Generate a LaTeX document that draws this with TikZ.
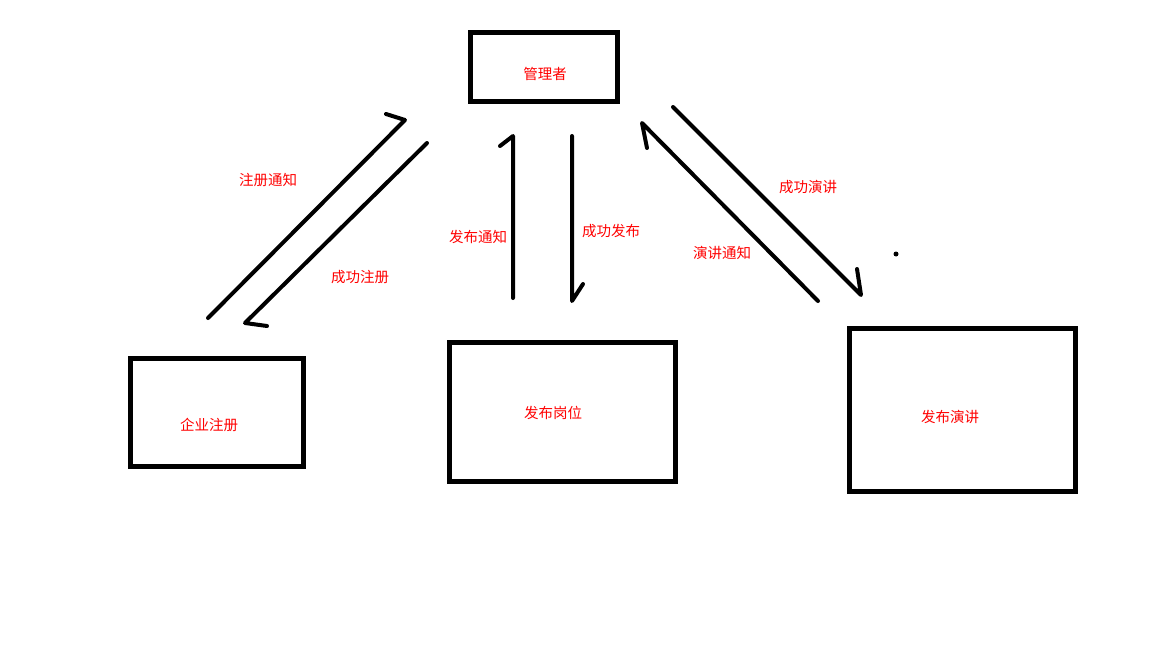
\documentclass[tikz,border=0pt]{standalone}
\usepackage{fontspec}
\newfontfamily\cjk{Noto Sans CJK SC}
\usepackage{tikz}
\usetikzlibrary{positioning,calc}
\tikzset{
  box/.style ={rectangle, draw=black, line width=4.6pt, fill=white, inner sep=0pt},
  lbl/.style ={font=\cjk\fontsize{14.5}{16}\selectfont, text=red, inner sep=0pt},
  flow/.style={draw=black, line width=4pt, line cap=round, line join=round},
}

\begin{document}
\begin{tikzpicture}[x=1pt, y=-1pt]
  \useasboundingbox[fill=white] (0,0) rectangle (1152,648);
  % boxes
  \node[box, minimum width=147.5pt, minimum height=69.5pt] (mgr) at (544,67) {};
  \node[box, minimum width=173.5pt, minimum height=108.5pt] (reg) at (217,412.5) {};
  \node[box, minimum width=226.5pt, minimum height=139.5pt] (job) at (562.5,412) {};
  \node[box, minimum width=226.5pt, minimum height=163.5pt] (talk) at (962.5,410) {};
  \node[lbl] (mgrtxt) at (545,74) {管理者};
  \node[lbl] (regtxt) at (209,425) {企业注册};
  \node[lbl] (jobtxt) at (553,413) {发布岗位};
  \node[lbl] (talktxt) at (950,417) {发布演讲};
  % ends of the hand-drawn arrows
  \coordinate (regA) at (208,318);  \coordinate (mgrA) at (405,120);
  \coordinate (mgrB) at (427,143);  \coordinate (regB) at (245,323);
  \coordinate (jobA) at (513,298);  \coordinate (mgrC) at (513,136);
  \coordinate (mgrD) at (572,136);  \coordinate (jobB) at (572,301);
  \coordinate (talkA) at (818,301); \coordinate (mgrE) at (642,123);
  \coordinate (mgrF) at (673,107);  \coordinate (talkB) at (861,295);
  \draw[flow] (regA) -- (mgrA) -- ++(-19,-6);
  \draw[flow] (mgrB) -- (regB) -- ++(22,3);
  \draw[flow] (jobA) -- (mgrC) -- ++(-13,10);
  \draw[flow] (mgrD) -- (jobB) -- ++(11,-17);
  \draw[flow] (talkA) -- (mgrE) -- ++(5,25);
  \draw[flow] (mgrF) -- (talkB) -- ++(-4,-26);
  % arrow labels
  \node[lbl] (l1) at (268,180) {注册通知};
  \node[lbl] (l2) at (360,277) {成功注册};
  \node[lbl] (l3) at (478,237) {发布通知};
  \node[lbl] (l4) at (611,231) {成功发布};
  \node[lbl] (l5) at (808,187) {成功演讲};
  \node[lbl] (l6) at (722,253) {演讲通知};
  \fill (896,254) circle (2.5pt);
\end{tikzpicture}
\end{document}
